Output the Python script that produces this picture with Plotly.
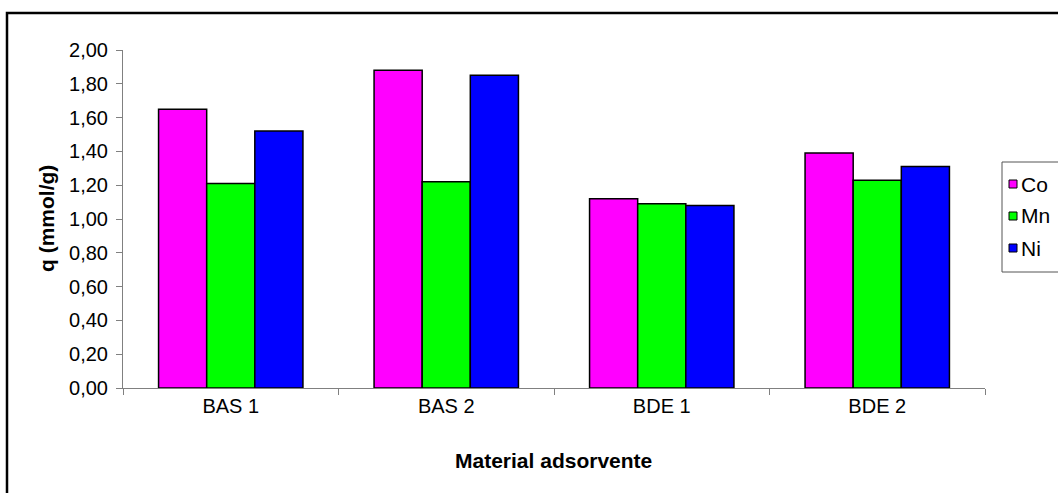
import plotly.graph_objects as go

categories = ["BAS 1", "BAS 2", "BDE 1", "BDE 2"]
series_names = ["Co", "Mn", "Ni"]
co_values = [1.65, 1.88, 1.12, 1.39]
mn_values = [1.21, 1.22, 1.09, 1.23]
ni_values = [1.52, 1.85, 1.08, 1.31]
series_colors = ["#FF00FF", "#00FF00", "#0000FF"]
y_ticks = [0.0, 0.2, 0.4, 0.6, 0.8, 1.0, 1.2, 1.4, 1.6, 1.8, 2.0]
x_title = "Material adsorvente"
y_title = "q (mmol/g)"

W, H = 1058, 493
L, R, T, B = 123, 73, 50, 105
PW, PH = W - L - R, H - T - B

def px(x):
    return (x - L) / PW

def py(y):
    return (H - B - y) / PH

FONT = "Liberation Sans, Arial, sans-serif"
fig = go.Figure()
for name, vals, col in zip(series_names, [co_values, mn_values, ni_values], series_colors):
    fig.add_trace(go.Bar(
        x=categories, y=vals, name=name,
        marker=dict(color=col, line=dict(color="#000000", width=1.5)),
        showlegend=False,
    ))

fig.update_layout(
    width=W, height=H,
    margin=dict(l=L, r=R, t=T, b=B, autoexpand=False),
    paper_bgcolor="white", plot_bgcolor="white",
    barmode="group", bargap=0.33, bargroupgap=0,
    separators=",.",
    font=dict(family=FONT, size=20, color="black"),
    xaxis=dict(
        showline=True, linecolor="#808080", linewidth=1,
        ticks="outside", tickson="boundaries", ticklen=6, tickcolor="#808080",
        showgrid=False, tickfont=dict(size=20),
    ),
    yaxis=dict(
        range=[0, 2], tickvals=y_ticks, tickformat=".2f",
        showline=True, linecolor="#808080", linewidth=1,
        ticks="outside", ticklen=6, tickcolor="#808080",
        showgrid=False, zeroline=False, tickfont=dict(size=20),
        ticklabelstandoff=4,
    ),
)

shapes = []
# outer chart border (extends beyond the visible page)
shapes.append(dict(type="rect", xref="paper", yref="paper",
                   x0=px(7), x1=px(1075), y0=py(510), y1=py(13),
                   line=dict(color="black", width=2.5), fillcolor="rgba(0,0,0,0)"))
# legend box
shapes.append(dict(type="rect", xref="paper", yref="paper",
                   x0=px(1002), x1=px(1075), y0=py(272), y1=py(162),
                   line=dict(color="#555555", width=1), fillcolor="white"))
annotations = []
legend_y = [184, 216, 248]
for name, col, yc in zip(series_names, series_colors, legend_y):
    shapes.append(dict(type="rect", xref="paper", yref="paper",
                       x0=px(1009), x1=px(1017), y0=py(yc + 4), y1=py(yc - 4),
                       line=dict(color="black", width=1), fillcolor=col))
    annotations.append(dict(xref="paper", yref="paper", x=px(1019), y=py(yc),
                            xanchor="left", yanchor="middle", showarrow=False,
                            text=name, font=dict(size=21, family=FONT)))

annotations.append(dict(xref="paper", yref="paper", x=px(553), y=py(460),
                        xanchor="center", yanchor="middle", showarrow=False,
                        text="<b>" + x_title + "</b>", font=dict(size=21, family=FONT)))
annotations.append(dict(xref="paper", yref="paper", x=px(46), y=py(219),
                        xanchor="center", yanchor="middle", showarrow=False, textangle=-90,
                        text="<b>" + y_title + "</b>", font=dict(size=21, family=FONT)))

fig.update_layout(shapes=shapes, annotations=annotations)
fig.write_html("out.html")
